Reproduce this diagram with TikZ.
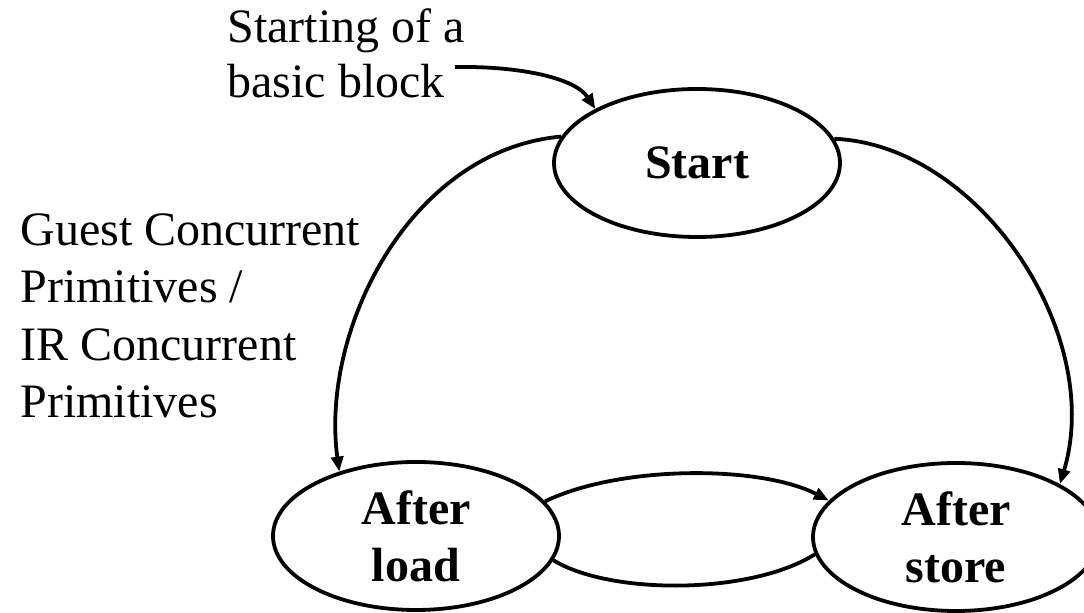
\documentclass[tikz,border=0pt]{standalone}
\usepackage{fontspec}
\setmainfont{Liberation Serif}
\usetikzlibrary{arrows.meta,shapes.geometric}
\begin{document}
\begin{tikzpicture}[x=0.5pt,y=-0.5pt,
  state/.style={draw,ellipse,line width=1.9pt,minimum width=143pt,minimum height=74pt,
    inner sep=0pt,align=center,font=\fontsize{24}{28.5}\selectfont\bfseries},
  edge/.style={line width=1.9pt},
  arr/.style={edge,-{Triangle[length=7.5pt,width=6pt]}},
  lbl/.style={align=left,inner sep=0pt,anchor=base west}]
\useasboundingbox (0,0) rectangle (1084,613);

% states
\node[state] (Start) at (697,163) {Start};
\node[state] (load)  at (416,536) {After\\load};
\node[state] (store) at (956,537) {After\\store};

% labels (anchored at the baseline of their last line)
\node[lbl,font=\fontsize{24}{27.5}\selectfont] (sbtext) at (227,98) {Starting of a\\basic block};
\node[lbl,font=\fontsize{24}{28.8}\selectfont] (gtext) at (20,418)
  {Guest Concurrent\\Primitives /\\IR Concurrent\\Primitives};

% entry arrow
\coordinate (sb) at (455,67);
\draw[arr] (sb) .. controls (520,66) and (575,78) .. (Start.152);

% transitions
\draw[arr] (Start.169) .. controls (410,150) and (320,330) .. (load.140);
\draw[arr] (Start.10) .. controls (980,145) and (1105,335) .. (store.27);
\draw[arr] (load.15) .. controls (620,465) and (760,465) .. (store.164);
\draw[edge] (load.350) .. controls (610,595) and (750,595) .. (store.187);
\end{tikzpicture}
\end{document}
